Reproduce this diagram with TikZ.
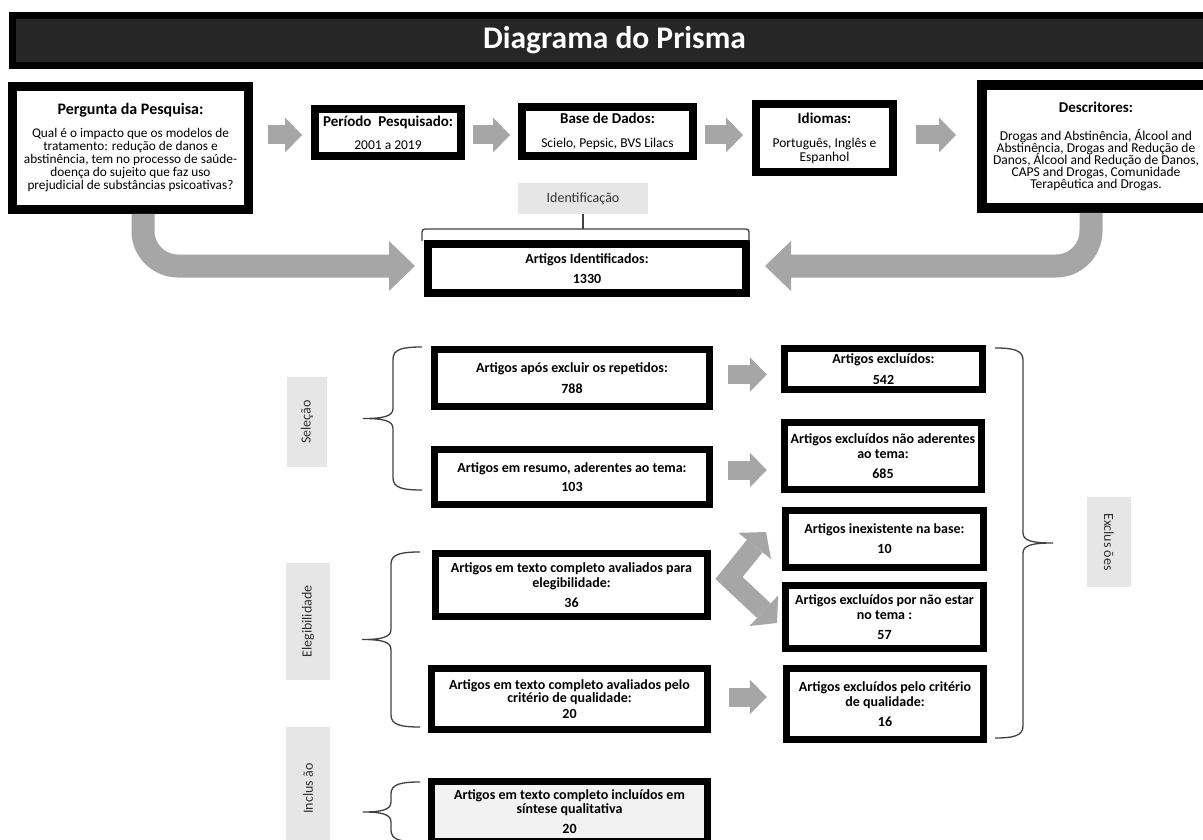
\documentclass[tikz,border=0pt]{standalone}
\usepackage{fontspec}
\setmainfont{Carlito}
\usetikzlibrary{arrows.meta,calc}
\definecolor{arrowgray}{RGB}{166,166,166}
\definecolor{labelgray}{RGB}{230,230,230}
\definecolor{titlefill}{RGB}{38,38,38}
\definecolor{incfill}{RGB}{242,242,242}
\definecolor{bracecol}{RGB}{64,64,64}
\definecolor{labeltext}{RGB}{50,50,50}
\newcommand{\bracX}[6]{%
  \pgfmathsetmacro{\bym}{(#2+#3)/2}%
  \draw[bracestyle] (#1,#2) .. controls ({#4+10*#6},#2) and (#4,{#2+2}) .. (#4,{#2+12})
    -- (#4,{\bym-10}) .. controls (#4,{\bym-2}) and ({#4-10*#6},\bym) .. (#5,\bym)
    .. controls ({#4-10*#6},\bym) and (#4,{\bym+2}) .. (#4,{\bym+10})
    -- (#4,{#3-12}) .. controls (#4,{#3-2}) and ({#4+10*#6},#3) .. (#1,#3);}
\newcommand{\hd}[2][15]{\textbf{\fontsize{#1}{16}\selectfont #2}}
\begin{document}
\lineskiplimit=-100pt
\lineskip=0pt
\begin{tikzpicture}[x=1pt,y=-1pt,
  titlebar/.style={draw=black, fill=titlefill, line width=7pt, inner sep=0pt, text=white, font=\fontsize{31.5}{34}\selectfont\bfseries},
  topbox/.style={draw=black, fill=white, line width=8pt, align=center, inner sep=0pt, font=\fontsize{13.5}{13}\selectfont},
  box/.style={draw=black, fill=white, line width=7.5pt, align=center, inner sep=0pt, font=\fontsize{14}{14.5}\selectfont\bfseries},
  phase/.style={fill=labelgray, inner sep=0pt, font=\fontsize{14}{15}\selectfont, text=labeltext},
  bracestyle/.style={draw=bracecol, line width=1.3pt},
  blockarrow/.style={draw=arrowgray, line width=19pt, -{Triangle[length=17pt,width=35pt,line width=0pt]}},
  bigarrow/.style={draw=arrowgray, line width=23pt, rounded corners=35pt, -{Triangle[length=26pt,width=50pt,line width=0pt]}},
  chevarrow/.style={draw=arrowgray, line width=20pt, line join=miter, {Triangle[length=18pt,width=42pt,line width=0pt]}-{Triangle[length=18pt,width=42pt,line width=0pt]}}
]
\useasboundingbox (0,0) rectangle (1203,840);
% title
\node[titlebar, minimum width=1204, minimum height=50] (title) at (614.5,40.5) {Diagrama do Prisma};
% top row
\node[topbox, line width=9pt, minimum width=236, minimum height=123, font=\fontsize{13.3}{13}\selectfont] (q) at (130.5,148)
 {\hd[16]{Pergunta da Pesquisa:}\\[10pt]
  Qual é o impacto que os modelos de\\ tratamento: redução de danos e\\ abstinência, tem no processo de saúde-\\ doença do sujeito que faz uso\\ prejudicial de substâncias psicoativas?};
\node[topbox, minimum width=146, minimum height=47] (per) at (388,132.5)
 {\hd{Período\ \ Pesquisado:}\\[10pt] 2001 a 2019};
\node[topbox, minimum width=171, minimum height=49] (base) at (607.5,131.5)
 {\hd{Base de Dados:}\\[11pt] Scielo, Pepsic, BVS Lilacs};
\node[topbox, minimum width=137, minimum height=68, font=\fontsize{13.5}{14}\selectfont] (idi) at (824.5,138)
 {\hd{Idiomas:}\\[10pt] Português, Inglês e\\ Espanhol};
\node[topbox, line width=10pt, minimum width=228, minimum height=123, font=\fontsize{13.5}{12}\selectfont] (desc) at (1096,146.5)
 {\hd{Descritores:}\\[16pt]
  Drogas and Abstinência, Álcool and\\ Abstinência, Drogas and Redução de\\ Danos, Álcool and Redução de Danos,\\ CAPS and Drogas, Comunidade\\ Terapêutica and Drogas.};
\draw[blockarrow] ([shift={(15,-13)}]q.east) -- ([shift={(-9,2.5)}]per.west);
\draw[blockarrow] ([shift={(8,2.5)}]per.east) -- ([shift={(-8,3.5)}]base.west);
\draw[blockarrow] ([shift={(8,3.5)}]base.east) -- ([shift={(-9,-3)}]idi.west);
\draw[blockarrow] ([shift={(19,-3)}]idi.east) -- ([shift={(-21,-11.5)}]desc.west);
% identification
\node[phase, minimum width=130, minimum height=31] (idl) at (583,198.5) {Identificação};
\node[box, line width=8pt, minimum width=318, minimum height=49] (idf) at (587,268.5)
 {Artigos Identificados:\\[5pt] 1330};
\coordinate (brk) at (586,229);
\draw[bracestyle, rounded corners=3pt] (422,241) -- (422,229) -- (749,229) -- (749,241);
\draw[bracestyle] (idl.south) -- (idl.south |- brk);
\draw[bigarrow] ([xshift=12.5pt]q.south) |- ([shift={(-9,-2.5)}]idf.west);
\draw[bigarrow] ([xshift=-5pt]desc.south) |- ([shift={(15,-2.5)}]idf.east);
% selection
\node[phase, rotate=90, minimum width=90, minimum height=40] (sel) at (307,422) {Seleção};
\node[box, minimum width=275, minimum height=57] (s1) at (572,378)
 {Artigos após excluir os repetidos:\\[6pt] 788};
\node[box, minimum width=275, minimum height=55] (s2) at (572,477)
 {Artigos em resumo, aderentes ao tema:\\[5pt] 103};
\node[box, minimum width=198, minimum height=41] (e1) at (883.5,369)
 {Artigos excluídos:\\[6pt] 542};
\node[box, minimum width=197, minimum height=67] (e2) at (883,456)
 {Artigos excluídos não aderentes\\ ao tema:\\[5.5pt] 685};
\node[box, minimum width=198, minimum height=57] (e3) at (884.5,539)
 {Artigos inexistente na base:\\[5.5pt] 10};
\node[box, minimum width=198, minimum height=63] (e4) at (884.5,617)
 {Artigos excluídos por não estar\\ no tema :\\[5.5pt] 57};
\node[box, minimum width=197, minimum height=71] (e5) at (885,704)
 {Artigos excluídos pelo critério\\ de qualidade:\\[5.5pt] 16};
\draw[blockarrow] ([shift={(15,-3.5)}]s1.east) -- ([shift={(-14,5.5)}]e1.west);
\draw[blockarrow] ([shift={(15,-7)}]s2.east) -- ([shift={(-14,14)}]e2.west);
% eligibility
\node[phase, rotate=90, minimum width=117, minimum height=44] (eleg) at (308,621.5) {Elegibilidade};
\node[box, minimum width=272, minimum height=63] (g1) at (571.5,585)
 {Artigos em texto completo avaliados para\\ elegibilidade:\\[5.5pt] 36};
\node[box, minimum width=276, minimum height=61, font=\fontsize{14}{13}\selectfont\bfseries] (g2) at (569.5,699)
 {Artigos em texto completo avaliados pelo\\ critério de qualidade:\\[3pt] 20};
\draw[blockarrow] ([shift={(18,-2)}]g2.east) -- ([shift={(-16,-7)}]e5.west);
\coordinate (chevA) at (766,532);
\coordinate (chevV) at (729,578);
\coordinate (chevB) at (777,623);
\draw[chevarrow] (chevA) -- (chevV) -- (chevB);
% inclusion
\node[phase, rotate=90, minimum width=123, minimum height=44] (incl) at (308,788.5) {Inclus ão};
\node[box, fill=incfill, minimum width=276, minimum height=60] (inc) at (569.5,811.5)
 {Artigos em texto completo incluídos em\\ síntese qualitativa\\[5.5pt] 20};
% exclusions
\node[phase, rotate=-90, minimum width=90, minimum height=44] (excl) at (1109,542) {Exclus ões};
% braces
\bracX{422}{347}{490}{393}{363}{1}
\bracX{420}{552}{727}{391}{362}{1}
\bracX{420}{782}{842}{391}{363}{1}
\bracX{995}{348}{738}{1023}{1053}{(-1)}
\end{tikzpicture}
\end{document}
